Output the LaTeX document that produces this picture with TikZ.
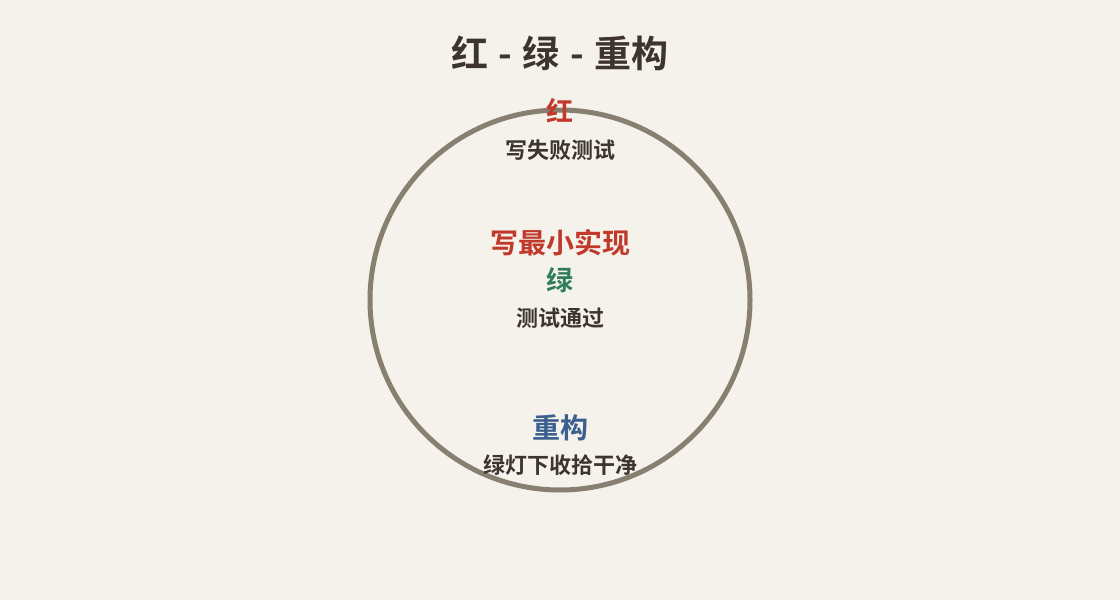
\documentclass[tikz,border=0pt]{standalone}
\usepackage{fontspec}
\usepackage{xcolor}
\usepackage{tikz}
\usetikzlibrary{
	positioning,
	backgrounds,
	}
\newfontfamily\cjk{Noto Sans CJK SC}[BoldFont={Noto Sans CJK SC Bold}]
\definecolor{bgpaper}{HTML}{F5F2EB}
\definecolor{ringgray}{HTML}{877F6F}
\definecolor{inkdark}{HTML}{3D3330}
\definecolor{tddred}{HTML}{C0392B}
\definecolor{tddgreen}{HTML}{2E7D5B}
\definecolor{tddblue}{HTML}{3B5F8F}
\tikzset{
	phase/.style={font=\cjk\bfseries\fontsize{27}{30}\selectfont, inner sep=0pt},
	hint/.style={font=\cjk\bfseries\fontsize{22}{25}\selectfont, text=inkdark, inner sep=0pt},
}

\begin{document}
\begin{tikzpicture}[x=1pt, y=-1pt]
			\fill[bgpaper] (0,0) rectangle (1120,600);
			\useasboundingbox (0,0) rectangle (1120,600);
			\node[font=\cjk\bfseries\fontsize{37}{40}\selectfont, text=inkdark, inner sep=0pt] (title) at (560,53) {红\hspace{2pt} - \hspace{2pt}绿\hspace{2pt} - \hspace{2pt}重构};
			\node[draw=ringgray, line width=5pt, circle, minimum size=380pt, inner sep=0pt] (ring) at (560,300) {};
			\node[phase, text=tddred] (red) at (560,111) {红};
			\node[hint] (redhint) at (560,150) {写失败测试};
			\node[phase, text=tddred, font=\cjk\bfseries\fontsize{28}{30}\selectfont] (minimal) at (560,243) {写最小实现};
			\node[phase, text=tddgreen] (green) at (560,280) {绿};
			\node[hint] (greenhint) at (560,318) {测试通过};
			\node[phase, text=tddblue, font=\cjk\bfseries\fontsize{28}{30}\selectfont] (refactor) at (560,428) {重构};
			\node[hint] (refactorhint) at (560,465) {绿灯下收拾干净};
		\end{tikzpicture}
\end{document}
